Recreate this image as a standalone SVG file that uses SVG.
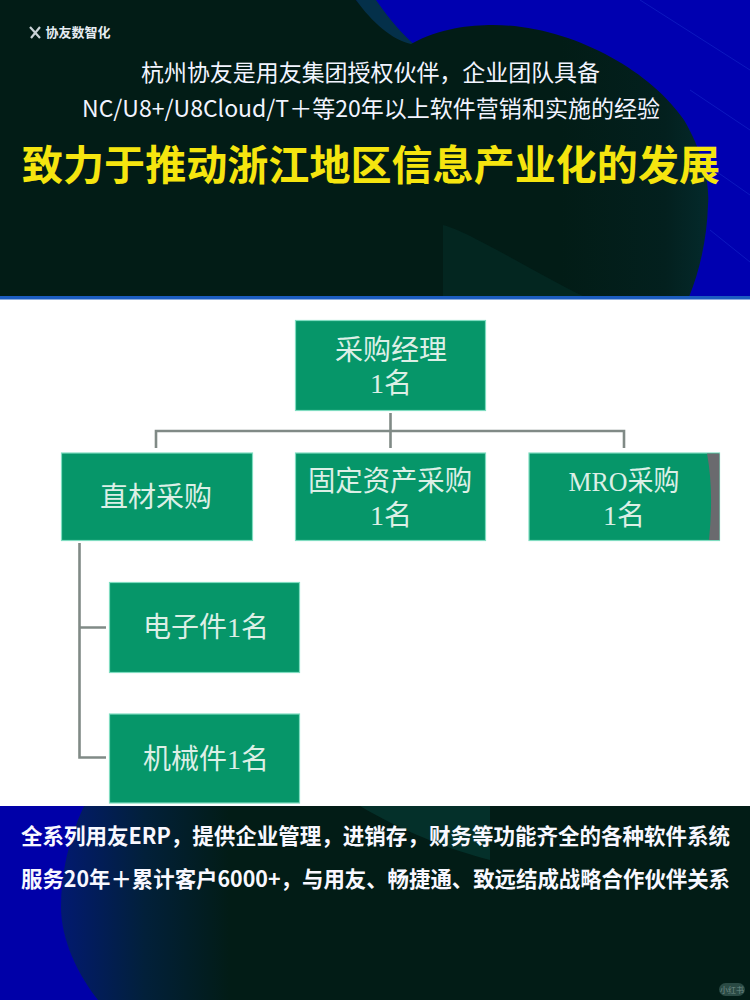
<svg xmlns="http://www.w3.org/2000/svg" width="750" height="1000" viewBox="0 0 750 1000">
<style>
.cn{font-family:"Noto Sans CJK SC","Liberation Sans",sans-serif}
.t{fill:#f2f4ff;text-anchor:middle}
.b{fill:#f8f8ff;font-weight:700;text-anchor:middle}
.box{fill:#069669;stroke:#7fdcc0;stroke-width:1.2}
.nt{font-family:"Liberation Serif","Noto Sans CJK SC",serif;fill:#dcefe6;font-size:28px;text-anchor:middle}
.ln{fill:none;stroke:#808a86;stroke-width:2.6}
.gl{stroke:#2a4fe0;stroke-width:1;opacity:.3}
</style>
<defs>
<linearGradient id="fadeB" gradientUnits="userSpaceOnUse" x1="60" x2="230" y1="0" y2="0"><stop offset="0" stop-color="#021a70"/><stop offset=".5" stop-color="#02203a"/><stop offset="1" stop-color="#021c16"/></linearGradient>
<linearGradient id="fadeT" gradientUnits="userSpaceOnUse" x1="560" x2="710" y1="0" y2="0"><stop offset="0" stop-color="#021c16"/><stop offset=".7" stop-color="#03201e"/><stop offset="1" stop-color="#042a2c"/></linearGradient>
</defs>
<rect width="750" height="1000" fill="#ffffff"/>
<rect x="0" y="0" width="750" height="297" fill="#0000b0"/>
<g class="gl"><path d="M640 0L750 70M690 90L750 130M700 160L750 195M710 230L750 262"/></g>
<path d="M356 0H376C390 20 402 34 416 46L411 46C385 40 368 20 356 0Z" fill="#04304a"/>
<path d="M0 0H356C372 22 392 40 411 44C440 28 470 25 493 25C570 25 650 70 684 120C703 152 710 185 708 205C707 238 700 270 689 297H0Z" fill="url(#fadeT)"/>
<path d="M443 225C470 232 530 270 585 297H443Z" fill="#032620"/>
<rect x="0" y="296" width="750" height="3.500" fill="#1c5cc0"/>
<g id="logo">
<path d="M30 27L40 38M40 27L31 38" fill="none" stroke="#c9d2d6" stroke-width="2.200"/>
<text class="cn" x="78" y="37" font-size="13" font-weight="700" fill="#e6ecf2" text-anchor="middle">协友数智化</text>
</g>
<text class="cn t" x="370.500" y="81" font-size="23" textLength="459" lengthAdjust="spacingAndGlyphs">杭州协友是用友集团授权伙伴，企业团队具备</text>
<text class="cn t" x="371" y="117" font-size="23" textLength="578" lengthAdjust="spacingAndGlyphs">NC/U8+/U8Cloud/T＋等20年以上软件营销和实施的经验</text>
<text class="cn" x="371" y="180" font-size="41" font-weight="700" fill="#f5e50f" text-anchor="middle" textLength="698" lengthAdjust="spacingAndGlyphs">致力于推动浙江地区信息产业化的发展</text>
<g id="connectors">
<path class="ln" d="M390.500 413V448M156 448V431H624V448"/>
<path class="ln" d="M106 627.500H79.500M79.500 543V757.500H106"/>
</g>
<g id="n-manager"><rect class="box" x="295.500" y="320.500" width="190" height="90"/><text class="nt" x="391" y="360">采购经理</text><text class="nt" x="391" y="393">1名</text></g>
<g id="n-direct"><rect class="box" x="61.500" y="453" width="191" height="87.500"/><text class="nt" x="156" y="507">直材采购</text></g>
<g id="n-fixed"><rect class="box" x="295.500" y="453" width="190" height="87.500"/><text class="nt" x="390" y="491" textLength="164" lengthAdjust="spacingAndGlyphs">固定资产采购</text><text class="nt" x="391" y="525">1名</text></g>
<g id="n-mro"><rect class="box" x="529" y="453" width="190.500" height="87.500"/><path d="M707 453.500H719.500V540H709C712 510 712 480 707 453.500Z" fill="#6a6a6e"/><text class="nt" x="624" y="491" textLength="111" lengthAdjust="spacingAndGlyphs">MRO采购</text><text class="nt" x="624" y="525">1名</text></g>
<g id="n-elec"><rect class="box" x="109.500" y="582.500" width="190" height="90"/><text class="nt" x="206" y="637">电子件1名</text></g>
<g id="n-mech"><rect class="box" x="109.500" y="714" width="190" height="89"/><text class="nt" x="206" y="769">机械件1名</text></g>
<rect x="0" y="806" width="750" height="194" fill="#0000a8"/>
<path d="M84 806C68 840 61 875 61 907C61 940 78 975 98 1000H750V806Z" fill="url(#fadeB)"/>
<path d="M360 806H490V860C450 850 400 830 360 806Z" fill="#04302a"/>
<text class="cn b" x="375.500" y="844" font-size="22" textLength="709" lengthAdjust="spacingAndGlyphs">全系列用友ERP，提供企业管理，进销存，财务等功能齐全的各种软件系统</text>
<text class="cn b" x="375.500" y="887" font-size="22" textLength="709" lengthAdjust="spacingAndGlyphs">服务20年＋累计客户6000+，与用友、畅捷通、致远结成战略合作伙伴关系</text>
<g id="watermark"><rect x="719" y="983" width="26" height="13" rx="6.500" fill="#2a4a44"/><text class="cn" x="732" y="993" font-size="8" fill="#6f8a84" text-anchor="middle">小红书</text></g>
</svg>
